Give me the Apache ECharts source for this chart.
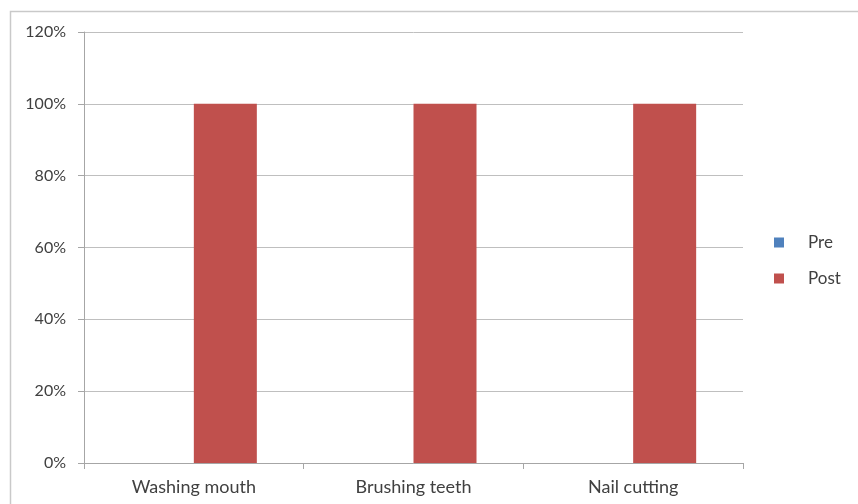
<!DOCTYPE html>
<html><head><meta charset="utf-8">
<script src="https://cdn.jsdelivr.net/npm/echarts@6/dist/echarts.min.js"></script>
<style>html,body{margin:0;padding:0;background:#fff}#c{width:858px;height:504px}</style>
</head><body><div id="c"></div>
<script>
var categories = ['Washing mouth', 'Brushing teeth', 'Nail cutting'];
var preValues = [0, 0, 0];
var postValues = [100, 100, 100];
var yTicks = [0, 20, 40, 60, 80, 100, 120];

var chart = echarts.init(document.getElementById('c'), null, {renderer: 'canvas'});
var font = 'Lato, "Open Sans", sans-serif';
chart.setOption({
  animation: false,
  backgroundColor: '#fff',
  graphic: [{
    type: 'polyline', silent: true,
    shape: {points: [[10.5, 520], [10.5, 11.5], [870, 11.5]]},
    style: {stroke: '#c9c9c9', lineWidth: 1.5, fill: null}
  }],
  grid: {left: 84, right: 115, top: 32, bottom: 41, containLabel: false},
  legend: {
    orient: 'vertical', left: 774, top: 234, padding: 0,
    itemWidth: 10, itemHeight: 10, itemGap: 19, icon: 'rect',
    textStyle: {fontFamily: font, fontSize: 17, color: '#404040', padding: [0, 0, 0, 19]},
    data: ['Pre', 'Post']
  },
  xAxis: {
    type: 'category', data: categories,
    axisLine: {lineStyle: {color: '#a6a6a6', width: 1}},
    axisTick: {show: true, length: 6, alignWithLabel: false, lineStyle: {color: '#a6a6a6'}},
    axisLabel: {fontFamily: font, fontSize: 18, color: '#404040', margin: 15}
  },
  yAxis: {
    type: 'value', min: 0, max: 120, interval: 20,
    axisLine: {show: true, lineStyle: {color: '#a6a6a6', width: 1}},
    axisTick: {show: true, length: 6, lineStyle: {color: '#a6a6a6'}},
    axisLabel: {fontFamily: font, fontSize: 16, color: '#404040', margin: 18,
      formatter: function (v) { return yTicks.indexOf(v) >= 0 ? v + '%' : ''; }},
    splitLine: {lineStyle: {color: '#bfbfbf', width: 1}}
  },
  series: [
    {name: 'Pre', type: 'bar', data: preValues, barWidth: 63, barGap: '0%',
      itemStyle: {color: '#4f81bd'}},
    {name: 'Post', type: 'bar', data: postValues, barWidth: 63, barGap: '0%',
      itemStyle: {color: '#c0504d'}}
  ]
});
</script></body></html>
